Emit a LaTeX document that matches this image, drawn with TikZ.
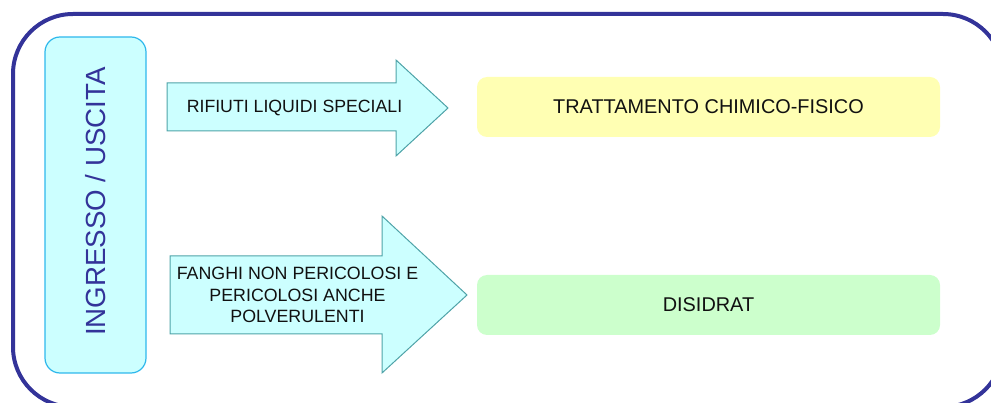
\documentclass[tikz,border=0pt]{standalone}
\usepackage{fontspec}
\setmainfont{Liberation Sans}
\definecolor{frame}{HTML}{333399}
\definecolor{lbluedraw}{HTML}{2EB8EC}
\definecolor{cyanfill}{HTML}{CCFFFF}
\definecolor{arrowdraw}{HTML}{4FA3A8}
\definecolor{yellowfill}{HTML}{FFFFB3}
\definecolor{greenfill}{HTML}{CCFFCC}
\definecolor{txt}{HTML}{111111}
\tikzset{
  arrowshape/.style={fill=cyanfill, draw=arrowdraw, line width=1pt, line join=miter},
  destbox/.style={rounded corners=10pt, draw=none},
  lbl/.style={text=txt, inner sep=0pt, align=center},
}
\begin{document}
\begin{tikzpicture}[x=1pt,y=-1pt]
\useasboundingbox (0,0) rectangle (991,403);
\begin{scope}
\clip (0,0) rectangle (991,403);
\draw[frame, line width=4pt, rounded corners=60pt] (13,14) rectangle (1003,407);
\end{scope}
% left box
\draw[fill=cyanfill, draw=lbluedraw, line width=1.2pt, rounded corners=15pt] (45,37) rectangle (146,373);
\node[rotate=90, text=frame, inner sep=0pt, font=\fontsize{27.7}{32}\selectfont] (io) at (96,201.5) {INGRESSO / USCITA};
% arrow 1
\draw[arrowshape] (167,83) -- (396,83) -- (396,60) -- (448,108) -- (396,156) -- (396,131) -- (167,131) -- cycle;
\node[lbl, font=\fontsize{17.7}{21}\selectfont] (a1) at (294.5,108) {RIFIUTI LIQUIDI SPECIALI};
% arrow 2
\draw[arrowshape] (170,256) -- (382,256) -- (382,216) -- (467,295) -- (382,373) -- (382,334) -- (170,334) -- cycle;
\node[lbl, font=\fontsize{17.8}{21.8}\selectfont] (a2) at (297.5,295) {FANGHI NON PERICOLOSI E\\PERICOLOSI ANCHE\\POLVERULENTI};
% destination boxes
\fill[yellowfill, destbox] (477,77) rectangle (940,137);
\node[lbl, font=\fontsize{19.9}{23}\selectfont] (t1) at (708.5,107) {TRATTAMENTO CHIMICO-FISICO};
\fill[greenfill, destbox] (477,275) rectangle (940,335);
\node[lbl, font=\fontsize{19.9}{23}\selectfont] (t2) at (708.5,305) {DISIDRAT};
\end{tikzpicture}
\end{document}
